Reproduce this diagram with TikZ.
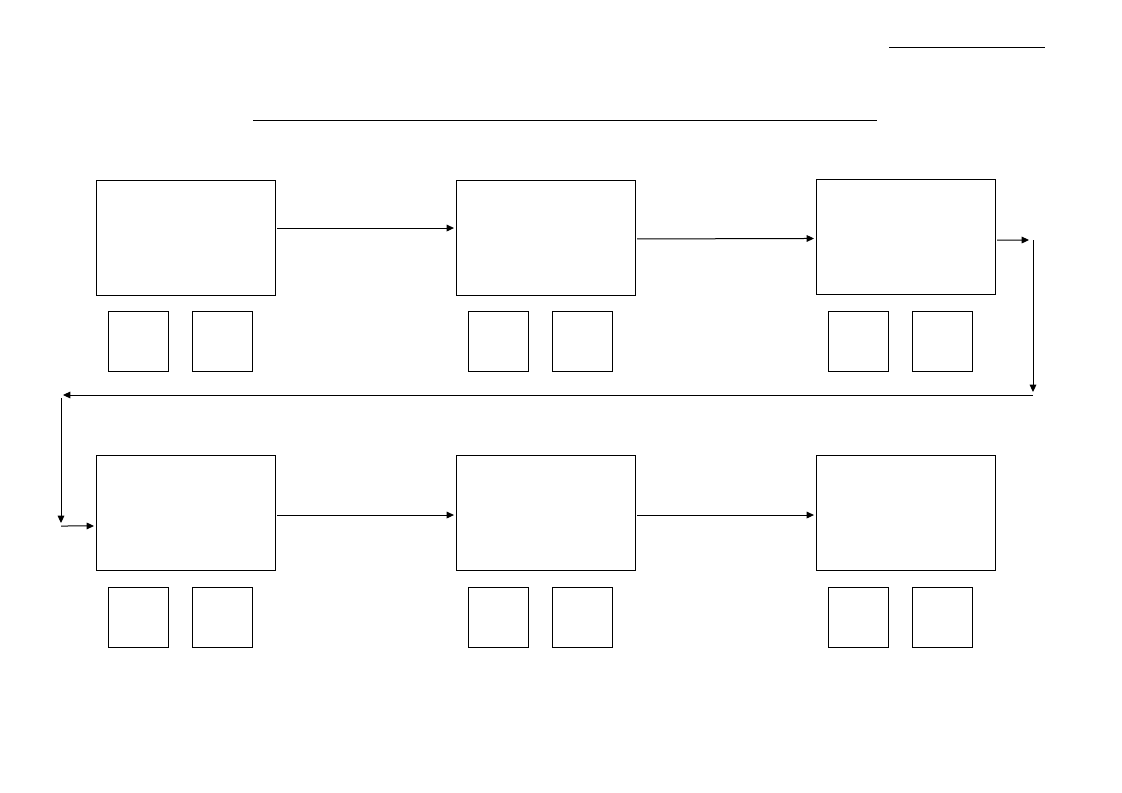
\documentclass[tikz,border=0pt]{standalone}
\usetikzlibrary{arrows.meta}
\begin{document}
\begin{tikzpicture}[x=0.75pt,y=-0.75pt,
  bigbox/.style={draw,line width=0.75pt,minimum width=134.25pt,minimum height=86.25pt,inner sep=0pt,outer sep=0pt},
  smallbox/.style={draw,line width=0.75pt,minimum width=45pt,minimum height=45pt,inner sep=0pt,outer sep=0pt},
  plain/.style={line width=0.75pt},
  arr/.style={line width=0.75pt,-{Triangle[length=5.5pt,width=5pt]}}]
\useasboundingbox (0,0) rectangle (1122,793);
% header lines
\coordinate (h1) at (889,47); \coordinate (h2) at (1045,47);
\coordinate (t1) at (253,120); \coordinate (t2) at (877,120);
\draw[plain] (h1) -- (h2);
\draw[plain] (t1) -- (t2);
% row 1
\node[bigbox] (b1) at (185.5,237.5) {};
\node[bigbox] (b2) at (545.5,237.5) {};
\node[bigbox] (b3) at (905.5,237) {};
\node[smallbox] (s11) at (138,341) {};
\node[smallbox] (s12) at (222,341) {};
\node[smallbox] (s21) at (498,341) {};
\node[smallbox] (s22) at (582,341) {};
\node[smallbox] (s31) at (858,341) {};
\node[smallbox] (s32) at (942,341) {};
% row 2
\node[bigbox] (b4) at (185.5,512.5) {};
\node[bigbox] (b5) at (545.5,512.5) {};
\node[bigbox] (b6) at (905.5,512.5) {};
\node[smallbox] (s41) at (138,617) {};
\node[smallbox] (s42) at (222,617) {};
\node[smallbox] (s51) at (498,617) {};
\node[smallbox] (s52) at (582,617) {};
\node[smallbox] (s61) at (858,617) {};
\node[smallbox] (s62) at (942,617) {};
% connectors
\draw[arr] ([xshift=1.5pt,yshift=7.1pt]b1.east) -- ([xshift=-1.5pt,yshift=7.1pt]b2.west);
\draw[arr] ([xshift=1.5pt,yshift=-1.1pt]b2.east) -- ([xshift=-1.5pt,yshift=-1.1pt]b3.west);
\coordinate (r1) at (1033,240);
\coordinate (r2) at (1033,392);
\coordinate (r3) at (1033,395);
\coordinate (l1) at (63,395);
\coordinate (l2) at (61,398);
\coordinate (l3) at (61,523);
\coordinate (l4) at (61,526);
\draw[arr] ([xshift=1.5pt,yshift=-2.3pt]b3.east) -- ([xshift=-3pt]r1);
\draw[arr] (r1) -- (r2);
\draw[arr] (r3) -- (l1);
\draw[arr] (l2) -- (l3);
\draw[arr] (l4) -- ([xshift=-1.5pt,yshift=-10.1pt]b4.west);
\draw[arr] ([xshift=1.5pt,yshift=-1.9pt]b4.east) -- ([xshift=-1.5pt,yshift=-1.9pt]b5.west);
\draw[arr] ([xshift=1.5pt,yshift=-1.9pt]b5.east) -- ([xshift=-1.5pt,yshift=-1.9pt]b6.west);
\end{tikzpicture}
\end{document}
